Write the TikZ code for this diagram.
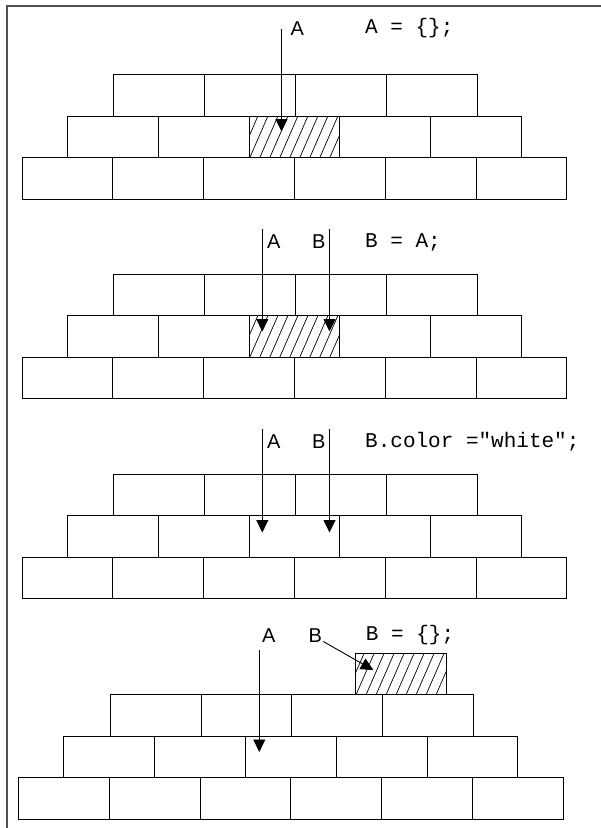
\documentclass[tikz,border=0pt]{standalone}
\usepackage{fontspec}
\setmainfont{Liberation Sans}
\setmonofont{Liberation Mono}
\usetikzlibrary{arrows.meta}
\definecolor{framegray}{RGB}{80,80,80}
\tikzset{
  brick/.style={draw=black, line width=0.9pt, minimum width=90.8pt, minimum height=41.5pt,
                inner sep=0pt, outer sep=0pt, anchor=north west},
  ptr/.style={draw=black, line width=0.9pt, -{Triangle[width=12pt,length=12.5pt]}},
  lbl/.style={anchor=base west, inner sep=0pt, font=\fontsize{20}{20}\selectfont},
  code/.style={anchor=base west, inner sep=0pt, font=\ttfamily\fontsize{21}{21}\selectfont},
  hatch/.style={line width=0.7pt},
  frameline/.style={draw=framegray}
}
\newcommand\hatchbox[1]{%
  \begin{scope}
    \clip (#1.south west) rectangle (#1.north east);
    \foreach \k in {-3,...,10}
      \draw[hatch] ([xshift=\k*10pt, yshift=-2pt]#1.south west) -- ++(20,-46);
  \end{scope}
  \draw[line width=0.9pt] (#1.south west) rectangle (#1.north east);
}
\begin{document}
\begin{tikzpicture}[x=1pt,y=-1pt]
\useasboundingbox (0,0) rectangle (601,828);
% frame
\draw[frameline, line width=1.8pt] (7,828) -- (7,5.5);
\draw[frameline, line width=1.3pt] (6.1,6) -- (601,6);
% brick walls
\foreach \p/\dx/\dy in {1/0/74.5, 2/0/274, 3/0/474, 4/-3.5/694.5} {
  \foreach \i in {0,...,3}
    \node[brick] (p\p t\i) at (113.8+\dx+\i*90.8, \dy) {};
  \foreach \i in {0,...,4}
    \node[brick] (p\p m\i) at (67.4+\dx+\i*90.8, \dy+41.5) {};
  \foreach \i in {0,...,5}
    \node[brick] (p\p b\i) at (22+\dx+\i*90.8, \dy+83) {};
}
\node[brick] (p4x) at (355.3,653) {};
\hatchbox{p1m2}
\hatchbox{p2m2}
\hatchbox{p4x}
% panel 1
\node[lbl] (l1a) at (290.5,35) {A};
\node[code] (c1) at (365,33.3) {A = \{\};};
\coordinate (a1s) at (281.5,29);
\coordinate (a1e) at (281.5,131.5);
\draw[ptr] (a1s) -- (a1e);
% panel 2
\node[lbl] (l2a) at (267,248) {A};
\node[lbl] (l2b) at (312,248) {B};
\node[code] (c2) at (365,247.3) {B = A;};
\coordinate (a2s) at (262.3,229);
\coordinate (a2e) at (262.3,331.5);
\coordinate (b2s) at (329.5,229);
\coordinate (b2e) at (329.5,331.5);
\draw[ptr] (a2s) -- (a2e);
\draw[ptr] (b2s) -- (b2e);
% panel 3
\node[lbl] (l3a) at (267,448) {A};
\node[lbl] (l3b) at (312,448) {B};
\node[code] (c3) at (365,447.3) {B.color ="white";};
\coordinate (a3s) at (262.3,429);
\coordinate (a3e) at (262.3,532.5);
\coordinate (b3s) at (329.5,429);
\coordinate (b3e) at (329.5,532.5);
\draw[ptr] (a3s) -- (a3e);
\draw[ptr] (b3s) -- (b3e);
% panel 4
\node[lbl] (l4a) at (262,642) {A};
\node[lbl] (l4b) at (308.5,642) {B};
\node[code] (c4) at (365.7,640.7) {B = \{\};};
\coordinate (a4s) at (259.3,650);
\coordinate (a4e) at (259.3,752);
\coordinate (b4s) at (323.3,641.5);
\coordinate (b4e) at (373.3,670);
\draw[ptr] (a4s) -- (a4e);
\draw[ptr] (b4s) -- (b4e);
\end{tikzpicture}
\end{document}
